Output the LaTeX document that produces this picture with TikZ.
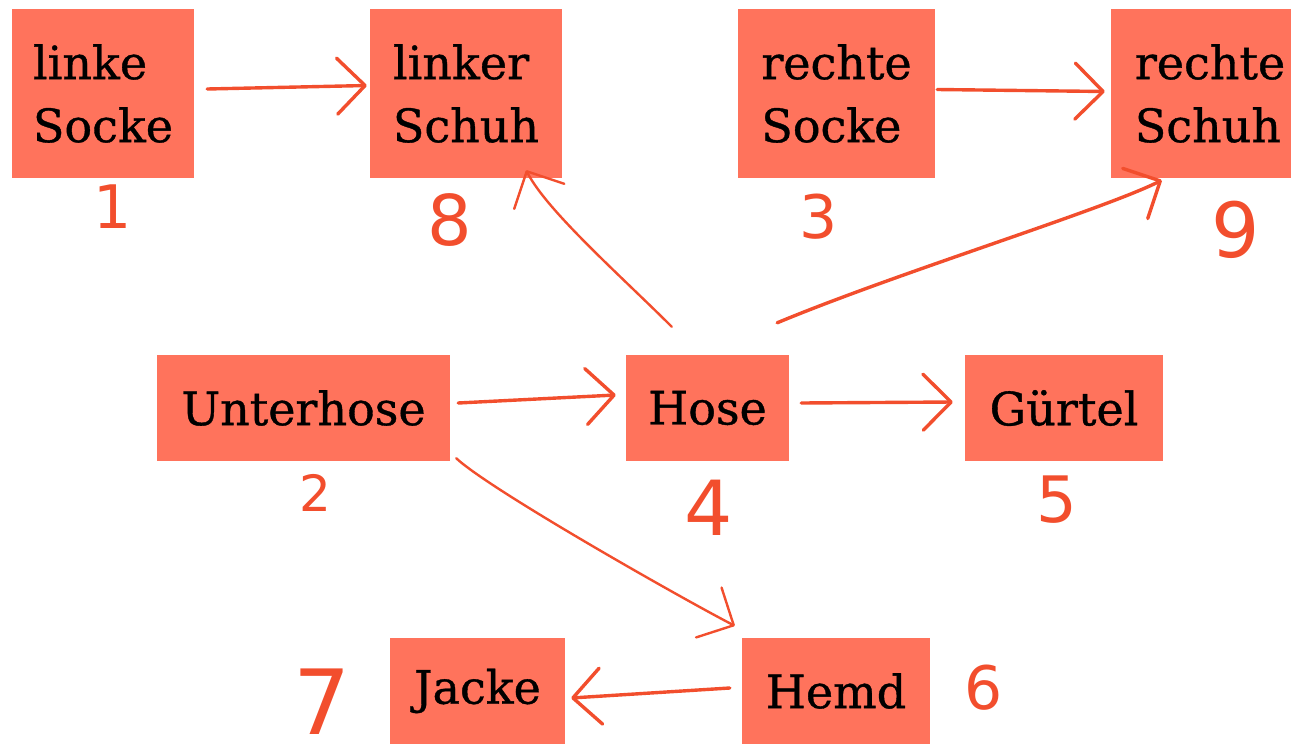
\documentclass[tikz,border=0pt]{standalone}
\usepackage{fontspec}
\setmainfont{DejaVu Serif}[BoldFont=DejaVu Serif, BoldFeatures={FakeBold=0.8}]
\newfontfamily\handfont{DejaVu Sans}
\usetikzlibrary{arrows.meta,calc}
\definecolor{boxfill}{RGB}{255,115,92}
\definecolor{ink}{RGB}{242,78,45}
\tikzset{
  garment/.style={fill=boxfill, draw=none, inner sep=0pt, align=left,
    font=\bfseries\fontsize{46}{63}\selectfont},
  link/.style={draw=ink, line width=3.4pt, line cap=round, line join=round,
    -{Straight Barb[length=28pt,width=56pt,round]}},
  thinlink/.style={link, line width=2.4pt},
  order/.style={text=ink, inner sep=0pt, font=\handfont\fontsize{60}{60}\selectfont},
}
\begin{document}
\begin{tikzpicture}[x=1pt,y=-1pt]
\useasboundingbox (0,0) rectangle (1291,755);
\clip (0,0) rectangle (1291,755);

% garments
\node[garment, minimum width=182pt, minimum height=169pt] (ls)  at (103,93.5)  {linke\\Socke};
\node[garment, minimum width=192pt, minimum height=169pt] (lsh) at (466,93.5)  {linker\\Schuh};
\node[garment, minimum width=197pt, minimum height=169pt] (rs)  at (836.5,93.5) {rechte\\Socke};
\node[garment, minimum width=198pt, minimum height=169pt] (rsh) at (1210,93.5) {rechte\\Schuh};
\node[garment, minimum width=293pt, minimum height=106pt] (uh)  at (303.5,408) {Unterhose};
\node[garment, minimum width=163pt, minimum height=106pt] (ho)  at (707.5,408) {Hose};
\node[garment, minimum width=198pt, minimum height=106pt] (gu)  at (1064,408)  {Gürtel};
\node[garment, minimum width=175pt, minimum height=106pt] (ja)  at (477.5,691) {Jacke};
\node[garment, minimum width=188pt, minimum height=106pt] (he)  at (836,691)   {Hemd};

% dressing order
\node[order] (n1) at (113,207) {1};
\node[order] (n2) at (315,493) {\fontsize{50}{50}\selectfont 2};
\node[order] (n3) at (819,217) {3};
\node[order] (n4) at (709,508) {\fontsize{76}{76}\selectfont 4};
\node[order] (n5) at (1057,500) {\fontsize{64}{64}\selectfont 5};
\node[order] (n6) at (984,688) {6};
\node[order] (n7) at (322,702) {\fontsize{90}{90}\selectfont 7};
\node[order] (n8) at (450,220) {\fontsize{70}{70}\selectfont 8};
\node[order] (n9) at (1236,230) {\fontsize{76}{76}\selectfont 9};

% dependencies
\draw[link] ($(ls.east)+(13,-4.5)$) -- ($(lsh.west)+(-3,-8)$);
\draw[link] ($(rs.east)+(2,-4)$) -- ($(rsh.west)+(-6,-2)$);
\draw[thinlink] ($(ho.north west)+(46,-28)$)
  .. controls +(-50,-50) and +(20,40) .. ($(lsh.south east)+(-36,-8)$);
\draw[link] ($(ho.north east)+(-12,-32)$)
  .. controls +(120,-50) and +(-60,30) .. ($(rsh.south west)+(51,2)$);
\draw[link] ($(uh.east)+(8,-5)$) -- ($(ho.west)+(-10,-13)$);
\draw[link] ($(ho.east)+(12,-5)$) -- ($(gu.west)+(-12,-6)$);
\draw[thinlink] ($(uh.south east)+(6,-3)$)
  .. controls +(34,32) and +(-45,-23) .. ($(he.north west)+(-7,-12)$);
\draw[link] ($(he.west)+(-12,-3)$) -- ($(ja.east)+(6,7)$);
\end{tikzpicture}
\end{document}
